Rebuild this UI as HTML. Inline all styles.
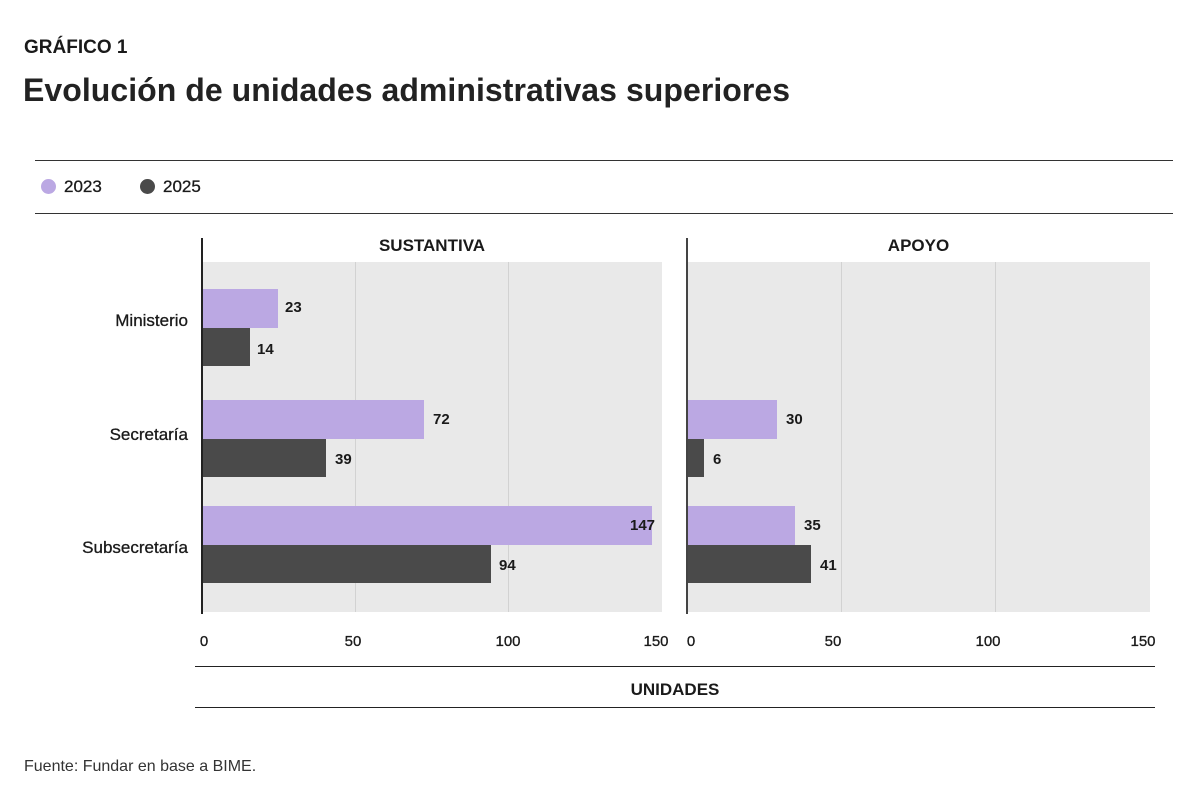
<!DOCTYPE html>
<html><head><meta charset="utf-8"><style>
body{margin:0;background:#fff;width:1200px;height:808px;position:relative;overflow:hidden;font-family:"Liberation Sans",sans-serif;color:#1a1a1a}
.a{position:absolute}
.b{font-weight:bold}
.lab{position:absolute;font-size:15px;font-weight:bold;line-height:18px}
.cat{position:absolute;font-size:17px;right:1012px;text-align:right;line-height:20px;-webkit-text-stroke:0.3px #1a1a1a}
.tk{position:absolute;font-size:15px;top:633px;width:40px;margin-left:-20px;text-align:center;-webkit-text-stroke:0.3px #1a1a1a}
</style></head><body>
<div class="a b" style="left:24px;top:37px;font-size:19px">GRÁFICO 1</div>
<div class="a" style="left:23px;top:72px;font-size:32px;font-weight:bold;letter-spacing:0.05px;color:#222">Evolución de unidades administrativas superiores</div>
<div class="a" style="left:35px;top:160px;width:1138px;height:1px;background:#333"></div>
<div class="a" style="left:35px;top:213px;width:1138px;height:1px;background:#333"></div>
<div class="a" style="left:41px;top:179px;width:15px;height:15px;border-radius:50%;background:#bba8e3"></div>
<div class="a" style="left:64px;top:177px;font-size:17px;-webkit-text-stroke:0.3px #1a1a1a">2023</div>
<div class="a" style="left:140px;top:179px;width:15px;height:15px;border-radius:50%;background:#4a4a4a"></div>
<div class="a" style="left:163px;top:177px;font-size:17px;-webkit-text-stroke:0.3px #1a1a1a">2025</div>

<div class="a b" style="left:202px;width:460px;text-align:center;top:236px;font-size:17px">SUSTANTIVA</div>
<div class="a b" style="left:687px;width:463px;text-align:center;top:236px;font-size:17px">APOYO</div>

<div class="a" style="left:202px;top:262px;width:460px;height:350px;background:#e9e9e9"></div>
<div class="a" style="left:687px;top:262px;width:463px;height:350px;background:#e9e9e9"></div>
<div class="a" style="left:355px;top:262px;width:1px;height:350px;background:#d2d2d2"></div>
<div class="a" style="left:508px;top:262px;width:1px;height:350px;background:#d2d2d2"></div>
<div class="a" style="left:841px;top:262px;width:1px;height:350px;background:#d2d2d2"></div>
<div class="a" style="left:995px;top:262px;width:1px;height:350px;background:#d2d2d2"></div>
<div class="a" style="left:201px;top:238px;width:2px;height:376px;background:#222"></div>
<div class="a" style="left:686px;top:238px;width:2px;height:376px;background:#444"></div>

<div class="a" style="left:203px;top:289px;width:75px;height:39px;background:#bba8e3"></div>
<div class="a" style="left:203px;top:328px;width:47px;height:38px;background:#4a4a4a"></div>
<div class="a" style="left:203px;top:400px;width:221px;height:39px;background:#bba8e3"></div>
<div class="a" style="left:203px;top:439px;width:123px;height:38px;background:#4a4a4a"></div>
<div class="a" style="left:203px;top:506px;width:449px;height:39px;background:#bba8e3"></div>
<div class="a" style="left:203px;top:545px;width:288px;height:38px;background:#4a4a4a"></div>
<div class="lab" style="left:285px;top:299px">23</div>
<div class="lab" style="left:257px;top:341px">14</div>
<div class="lab" style="left:433px;top:411px">72</div>
<div class="lab" style="left:335px;top:451px">39</div>
<div class="lab" style="left:630px;top:517px">147</div>
<div class="lab" style="left:499px;top:557px">94</div>

<div class="a" style="left:688px;top:400px;width:89px;height:39px;background:#bba8e3"></div>
<div class="a" style="left:688px;top:439px;width:16px;height:38px;background:#4a4a4a"></div>
<div class="a" style="left:688px;top:506px;width:107px;height:39px;background:#bba8e3"></div>
<div class="a" style="left:688px;top:545px;width:123px;height:38px;background:#4a4a4a"></div>
<div class="lab" style="left:786px;top:411px">30</div>
<div class="lab" style="left:713px;top:451px">6</div>
<div class="lab" style="left:804px;top:517px">35</div>
<div class="lab" style="left:820px;top:557px">41</div>

<div class="cat" style="top:311px">Ministerio</div>
<div class="cat" style="top:425px">Secretaría</div>
<div class="cat" style="top:538px">Subsecretaría</div>

<div class="tk" style="left:204px">0</div>
<div class="tk" style="left:353px">50</div>
<div class="tk" style="left:508px">100</div>
<div class="tk" style="left:656px">150</div>
<div class="tk" style="left:691px">0</div>
<div class="tk" style="left:833px">50</div>
<div class="tk" style="left:988px">100</div>
<div class="tk" style="left:1143px">150</div>

<div class="a" style="left:195px;top:666px;width:960px;height:1px;background:#222"></div>
<div class="a b" style="left:195px;width:960px;text-align:center;top:680px;font-size:17px">UNIDADES</div>
<div class="a" style="left:195px;top:707px;width:960px;height:1px;background:#222"></div>

<div class="a" style="left:24px;top:758px;font-size:16px;color:#333">Fuente: Fundar en base a BIME.</div>
</body></html>
